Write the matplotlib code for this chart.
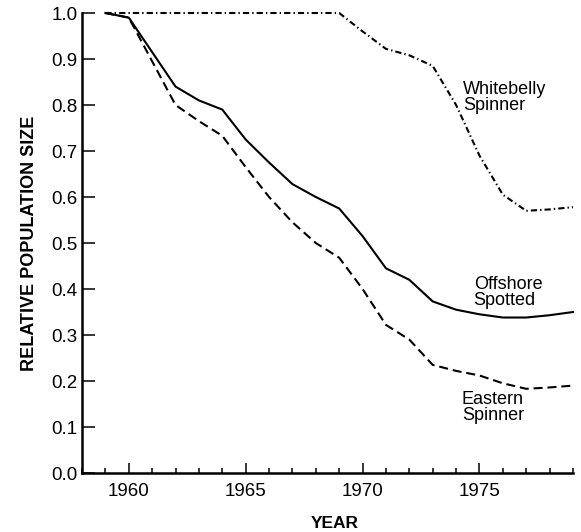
import matplotlib
matplotlib.use("Agg")
import matplotlib.pyplot as plt
from matplotlib.ticker import MultipleLocator

plt.rcParams['font.family'] = ['Liberation Sans', 'DejaVu Sans']
plt.rcParams['lines.scale_dashes'] = False

years = list(range(1959, 1980))
offshore_spotted = [1.0, 0.99, 0.915, 0.84, 0.81, 0.79, 0.725, 0.675, 0.628, 0.60, 0.575,
                    0.515, 0.445, 0.42, 0.373, 0.355, 0.345, 0.338, 0.338, 0.343, 0.35]
eastern_spinner = [1.0, 0.99, 0.895, 0.80, 0.765, 0.733, 0.665, 0.60, 0.545, 0.50, 0.468,
                   0.40, 0.322, 0.29, 0.235, 0.222, 0.212, 0.195, 0.183, 0.186, 0.19]
whitebelly_spinner = [1.0, 1.0, 1.0, 1.0, 1.0, 1.0, 1.0, 1.0, 1.0, 1.0, 1.0,
                      0.96, 0.922, 0.908, 0.885, 0.80, 0.69, 0.605, 0.57, 0.573, 0.578]
yticks = [0.0, 0.1, 0.2, 0.3, 0.4, 0.5, 0.6, 0.7, 0.8, 0.9, 1.0]
xticks = [1960, 1965, 1970, 1975]

fig = plt.figure(figsize=(5.81, 5.32), dpi=100)
ax = fig.add_axes([82/581, 1 - 473/532, (573 - 82)/581, (473 - 13)/532])

lw = 1.5
ax.plot(years, offshore_spotted, color='black', lw=lw, linestyle='-', clip_on=False)
ax.plot(years, eastern_spinner, color='black', lw=lw, linestyle=(0, (6.5, 3.5)), clip_on=False)
ax.plot(years, whitebelly_spinner, color='black', lw=lw,
        linestyle=(0, (4.5, 2.2, 1.0, 2.2)), clip_on=False)

ax.text(1974.3, 0.817, 'Whitebelly\nSpinner', fontsize=13, ha='left', va='center', linespacing=0.95)
ax.text(1974.75, 0.393, 'Offshore\nSpotted', fontsize=13, ha='left', va='center', linespacing=0.95)
ax.text(1974.25, 0.143, 'Eastern\nSpinner', fontsize=13, ha='left', va='center', linespacing=0.95)

ax.set_xlim(1958, 1979)
ax.set_ylim(0, 1.0)
ax.set_yticks(yticks)
ax.set_yticklabels([f'{v:.1f}' for v in yticks])
ax.set_xticks(xticks)
ax.set_xticklabels([str(v) for v in xticks])
ax.xaxis.set_minor_locator(MultipleLocator(1))

for s in ['top', 'right']:
    ax.spines[s].set_visible(False)
for s in ['left', 'bottom']:
    ax.spines[s].set_linewidth(1.8)

ax.tick_params(axis='y', direction='in', length=9.5, width=1.1, pad=3, labelsize=13.5)
ax.tick_params(axis='x', which='major', direction='in', length=7.5, width=1.1, pad=7, labelsize=13.5)
ax.tick_params(axis='x', which='minor', direction='in', length=3.8, width=1.1)

ax.set_ylabel('RELATIVE POPULATION SIZE', fontsize=13, fontweight='bold', labelpad=10)
fig.text(335/581, 1 - 524/532, 'YEAR', fontsize=12.5, fontweight='bold', ha='center', va='center')

fig.savefig('out.png', dpi=100, facecolor='white')
